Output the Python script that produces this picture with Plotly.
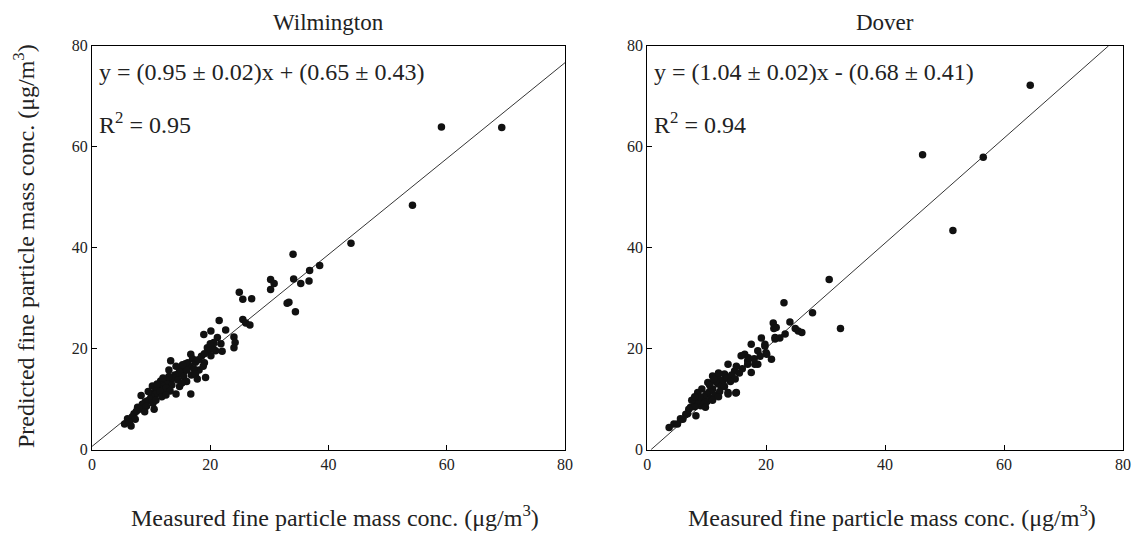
import plotly.graph_objects as go

# ---- Data ----
wil_x = [59.1, 69.3, 54.2, 43.8, 34.0, 36.8, 38.5, 34.1, 36.7, 35.3, 30.2, 30.8, 30.2, 33.3, 34.4, 33.0,
         24.9, 25.5, 27.0, 25.5, 26.0, 26.7, 21.5, 20.1, 18.9, 22.6, 24.0, 24.2, 24.0, 21.2, 20.6, 19.5,
         20.9, 20.1, 19.0, 18.1, 19.2, 16.7, 16.2, 13.3, 15.6, 14.5, 13.3, 11.6, 10.2, 14.2, 16.7, 12.2,
         10.5, 8.3, 9.4, 8.8, 10.5, 7.7, 7.1, 6.0, 5.5, 6.6,
         17.0, 17.5, 16.5, 15.8, 15.0, 14.8, 14.0, 13.8, 13.0, 12.5, 12.8, 12.0, 11.5, 11.0, 10.8, 10.0,
         9.8, 9.0, 8.5, 8.0, 7.5, 6.8, 16.0, 17.2, 18.0, 18.5, 19.8, 19.0, 20.5, 20.0, 21.8, 22.0,
         15.5, 14.5, 13.5, 12.5, 11.5, 16.8, 17.5, 15.3, 14.2, 13.0, 12.0, 11.0, 9.5, 10.3, 9.2, 11.8,
         13.2, 14.8, 16.0, 17.8, 18.8, 15.2, 12.5, 10.8, 8.9, 7.3, 6.3]
wil_y = [63.9, 63.8, 48.4, 40.9, 38.7, 35.5, 36.5, 33.8, 33.4, 32.9, 33.7, 32.9, 31.7, 29.2, 27.3, 29.0,
         31.2, 29.8, 29.9, 25.8, 25.1, 24.7, 25.6, 23.5, 22.8, 23.7, 22.3, 21.2, 20.2, 22.2, 21.2, 20.2,
         19.6, 18.6, 17.2, 15.8, 14.3, 18.9, 17.2, 17.6, 15.6, 15.0, 13.6, 13.6, 12.6, 11.0, 11.0, 11.7,
         11.3, 10.7, 9.7, 8.4, 8.0, 8.4, 7.1, 6.1, 5.1, 4.7,
         18.0, 17.3, 16.5, 17.0, 16.2, 15.5, 14.8, 14.2, 14.5, 13.8, 13.0, 12.5, 12.0, 11.8, 11.0, 10.5,
         10.0, 9.5, 9.0, 8.0, 7.6, 6.5, 15.8, 16.0, 17.8, 18.5, 19.8, 19.0, 20.0, 21.0, 21.0, 19.5,
         14.5, 13.8, 12.8, 12.2, 11.5, 14.8, 15.0, 16.8, 16.5, 15.8, 14.2, 13.0, 11.5, 9.2, 8.6, 10.5,
         11.6, 12.5, 13.5, 14.0, 16.5, 13.2, 10.8, 9.8, 7.5, 6.0, 5.5]

dov_x = [64.4, 46.3, 56.5, 51.4, 30.6, 23.0, 27.8, 32.5, 21.2, 21.3, 24.0, 24.9, 25.4, 26.0, 23.2, 22.3,
         21.5, 19.2, 19.8, 17.5, 18.6, 20.0, 20.9, 16.4, 16.9, 18.6, 21.7, 21.5, 19.8, 20.1, 15.8, 16.9,
         18.1, 17.5, 13.6, 14.7, 13.0, 11.0, 10.2, 11.9, 13.6, 15.0, 8.5, 9.6, 7.9, 7.3, 9.0, 6.8,
         8.2, 5.6, 4.5, 3.7, 5.1, 13.6, 14.9,
         12.0, 11.5, 12.5, 11.0, 10.5, 10.0, 9.5, 9.0, 8.5, 8.0, 10.8, 11.5, 12.2, 12.8, 13.5, 14.2,
         14.8, 15.5, 16.0, 15.0, 14.0, 13.0, 10.0, 9.5, 8.8, 7.5, 7.0, 6.5, 6.0, 9.2, 10.5, 11.2,
         12.0, 17.0, 18.0, 19.0, 8.0, 9.8, 11.0, 12.0]
dov_y = [72.2, 58.4, 57.9, 43.4, 33.7, 29.1, 27.1, 24.0, 25.1, 24.0, 25.3, 24.0, 23.5, 23.2, 22.9, 22.1,
         21.9, 22.1, 20.9, 20.9, 19.6, 19.2, 17.9, 18.9, 16.9, 16.9, 24.2, 22.2, 20.5, 18.9, 18.6, 17.6,
         16.9, 15.3, 16.9, 15.6, 15.0, 14.6, 13.3, 13.0, 11.3, 11.3, 11.3, 10.3, 9.7, 8.4, 8.7, 7.1,
         6.7, 6.1, 5.1, 4.4, 5.1, 11.0, 11.2,
         14.0, 13.5, 12.5, 12.0, 11.5, 11.0, 10.5, 9.8, 9.3, 8.5, 10.2, 10.8, 11.5, 13.8, 14.2, 14.8,
         14.0, 15.2, 16.0, 16.5, 13.5, 12.5, 9.5, 9.0, 10.5, 9.8, 8.0, 7.0, 6.0, 12.0, 12.8, 14.0,
         15.2, 18.2, 18.0, 18.5, 10.5, 8.4, 9.8, 10.5]

sites = ["Wilmington", "Dover"]
slopes = [0.95, 1.04]
intercepts = [0.65, -0.68]
eq_texts = ["y = (0.95 ± 0.02)x + (0.65 ± 0.43)", "y = (1.04 ± 0.02)x - (0.68 ± 0.41)"]
r2_texts = ["R<sup>2</sup> = 0.95", "R<sup>2</sup> = 0.94"]
tick_vals = [0, 20, 40, 60, 80]

SERIF = "Liberation Serif"
TXT = "#222222"
W, H = 1136, 540

fig = go.Figure()

data = [(wil_x, wil_y), (dov_x, dov_y)]
xdoms = [[89 / W, 567 / W], [650 / W, 1131 / W]]
top_px, bot_px = 39, 456
ydom = [1 - bot_px / H, 1 - top_px / H]

for i in range(2):
    xa = "x" if i == 0 else "x2"
    ya = "y" if i == 0 else "y2"
    m, b = slopes[i], intercepts[i]
    x0 = max(0.0, -b / m)
    x1 = min(80.0, (80 - b) / m)
    fig.add_trace(go.Scatter(x=[x0, x1], y=[m * x0 + b, m * x1 + b], mode="lines",
                             line=dict(color="black", width=0.8), xaxis=xa, yaxis=ya,
                             showlegend=False, hoverinfo="skip"))
    fig.add_trace(go.Scatter(x=data[i][0], y=data[i][1], mode="markers",
                             marker=dict(color="#111111", size=7.5, symbol="circle"),
                             xaxis=xa, yaxis=ya, showlegend=False))

axis_common = dict(range=[0, 80], tickvals=tick_vals, ticks="inside", ticklen=5, tickwidth=1,
                   tickcolor="black", showline=True, linecolor="black", linewidth=1, mirror=True,
                   showgrid=False, zeroline=False, fixedrange=True,
                   tickfont=dict(family=SERIF, size=16, color=TXT))

fig.update_layout(
    width=W, height=H,
    margin=dict(l=0, r=0, t=0, b=0),
    paper_bgcolor="white", plot_bgcolor="white",
    font=dict(family=SERIF, color=TXT),
    xaxis=dict(domain=xdoms[0], anchor="y", **axis_common),
    yaxis=dict(domain=ydom, anchor="x", **axis_common),
    xaxis2=dict(domain=xdoms[1], anchor="y2", **axis_common),
    yaxis2=dict(domain=ydom, anchor="x2", **axis_common),
)

annos = []
centers = [(xdoms[0][0] + xdoms[0][1]) / 2, (xdoms[1][0] + xdoms[1][1]) / 2]
for i in range(2):
    xr = "x domain" if i == 0 else "x2 domain"
    yr = "y domain" if i == 0 else "y2 domain"
    annos.append(dict(text=sites[i], x=centers[i], y=1 - 15 / H, xref="paper", yref="paper",
                      showarrow=False, font=dict(family=SERIF, size=23, color=TXT),
                      xanchor="center", yanchor="middle"))
    annos.append(dict(text=eq_texts[i], x=0.01, y=0.936, xref=xr, yref=yr, showarrow=False,
                      xanchor="left", yanchor="middle",
                      font=dict(family=SERIF, size=24, color=TXT)))
    annos.append(dict(text=r2_texts[i], x=0.01, y=0.81, xref=xr, yref=yr, showarrow=False,
                      xanchor="left", yanchor="middle",
                      font=dict(family=SERIF, size=24, color=TXT)))
    annos.append(dict(text="Measured fine particle mass conc. (μg/m<sup>3</sup>)",
                      x=centers[i] + 7 / W, y=1 - 524 / H, xref="paper", yref="paper",
                      showarrow=False, xanchor="center", yanchor="middle",
                      font=dict(family=SERIF, size=24, color=TXT)))

annos.append(dict(text="Predicted fine particle mass conc. (μg/m<sup>3</sup>)", x=20 / W,
                  y=1 - 246 / H, xref="paper", yref="paper",
                  showarrow=False, textangle=-90, xanchor="center", yanchor="middle",
                  font=dict(family=SERIF, size=24, color=TXT)))

fig.update_layout(annotations=annos)
fig.write_html("out.html", config={"displayModeBar": False},
               post_script="document.body.style.margin='0';document.body.style.overflow='hidden';")
